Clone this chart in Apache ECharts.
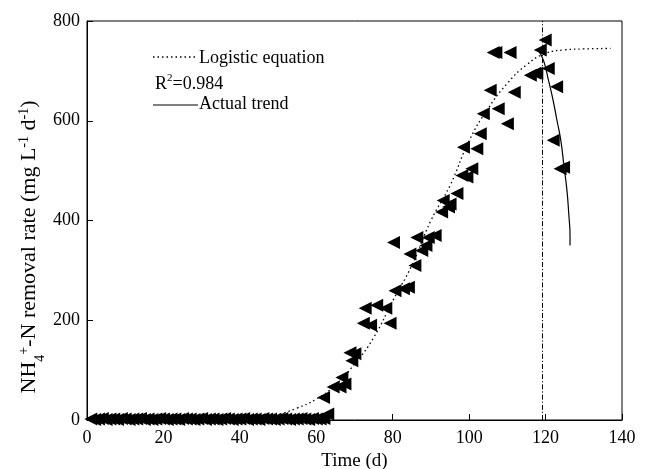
<!DOCTYPE html>
<html>
<head>
<meta charset="utf-8">
<script src="https://cdn.jsdelivr.net/npm/echarts@6/dist/echarts.min.js"></script>
<style>html,body{margin:0;padding:0;background:#fff}#c{width:646px;height:469px}</style>
</head>
<body>
<div id="c"></div>
<script>
// Measured data (day, NH4+-N removal rate)
var obsX = [1,2,3,4,5,6,7,8,9,10,11,12,13,14,15,16,17,18,19,20,21,22,23,24,25,26,27,28,29,30,31,32,33,34,35,36,37,38,39,40,41,42,43,44,45,46,47,48,49,50,51,52,53,54,55,56,57,58,59,60,61,62,
  61.9,63.0,64.4,66.2,67.5,66.7,68.8,70.1,69.3,
  72.3,74.2,79.3,72.8,75.8,78.2,
  80.2,80.6,82.8,84.1,85.8,84.5,87.6,86.3,89.3,91.1,88.7,
  92.8,94.6,93.2,95.0,96.8,98.1,99.4,100.7,102.0,98.5,102.9,103.7,107.6,
  110.0,111.8,105.5,106.3,107.0,110.7,116.0,117.2,117.7,118.6,119.9,120.7,122.9,122.0,123.8,124.7];
var obsY = [2,1,2,3,1,2,2,1,3,2,1,2,2,3,1,2,1,2,3,2,1,2,2,1,3,2,2,1,2,3,1,2,2,1,2,3,2,1,2,2,3,1,2,2,1,3,2,2,1,2,3,2,1,2,2,3,2,1,3,2,2,3,
  45,12,66,66,72,85,135,133,119,
  194,190,194,224,230,224,
  356,259,263,266,310,333,340,366,366,370,350,
  417,427,440,433,454,490,487,504,544,547,574,614,624,594,
  657,661,737,737,737,691,695,695,742,762,705,668,561,504,507,370];

// Logistic equation fit curve
var fitX = [0,10,20,30,40,45,50,55,60,65,70,75,80,85,90,95,100,105,110,115,120,125,130,137];
var fitY = [0,0,0,0,1,3,11,24,42,70,112,165,239,310,400,470,560,625,675,712,735,742,744,745];

// Actual trend curve
var trendX = [118.2,119.5,120.8,122.0,123.0,124.0,124.8,125.6,126.1,126.4,126.4];
var trendY = [740,720,680,640,600,560,510,460,410,370,350];

var xTicks = {min:0, max:140, interval:20};
var yTicks = {min:0, max:800, interval:200};
var transitionDay = 119;

function pairs(xs, ys){ var o=[]; for(var i=0;i<xs.length;i++) o.push([xs[i],ys[i]]); return o; }

var FONT = '"Liberation Serif","DejaVu Serif",serif';
var chart = echarts.init(document.getElementById('c'), null, {renderer:'canvas'});
chart.setOption({
  animation:false,
  backgroundColor:'#fff',
  grid:{left:87,right:24,top:21,bottom:49,outerBoundsMode:'none',containLabel:false,
        show:true,borderColor:'#000',borderWidth:1,backgroundColor:'transparent'},
  xAxis:{
    type:'value',min:xTicks.min,max:xTicks.max,interval:xTicks.interval,
    name:'Time (d)',nameLocation:'middle',nameGap:29,
    nameTextStyle:{fontFamily:FONT,fontSize:19,color:'#000'},
    axisLine:{show:true,lineStyle:{color:'#000',width:1}},
    axisTick:{show:true,inside:true,length:6,lineStyle:{color:'#000'}},
    axisLabel:{fontFamily:FONT,fontSize:18,color:'#000',margin:9},
    splitLine:{show:false}
  },
  yAxis:{
    type:'value',min:yTicks.min,max:yTicks.max,interval:yTicks.interval,
    axisLine:{show:true,lineStyle:{color:'#000',width:1}},
    axisTick:{show:true,inside:true,length:6,lineStyle:{color:'#000'}},
    axisLabel:{fontFamily:FONT,fontSize:18,color:'#000',margin:7},
    splitLine:{show:false}
  },
  series:[
    {
      type:'line',name:'Logistic equation',data:pairs(fitX,fitY),smooth:true,
      showSymbol:false,symbol:'none',
      lineStyle:{color:'#000',width:1.3,type:[1.5,3]},
      z:2,
      markLine:{
        silent:true,symbol:'none',label:{show:false},
        lineStyle:{color:'#000',width:1,type:[5,2,1.2,2]},
        data:[{xAxis:transitionDay}]
      }
    },
    {
      type:'scatter',name:'Observed',data:pairs(obsX,obsY),
      symbol:'path://M0,5L10,0L10,10Z',symbolSize:[13,13],
      itemStyle:{color:'#000',opacity:1},clip:true,z:3
    },
    {
      type:'line',name:'Actual trend',data:pairs(trendX,trendY),smooth:true,
      showSymbol:false,symbol:'none',
      lineStyle:{color:'#000',width:1.2,type:'solid'},z:4
    }
  ],
  graphic:[
    {type:'text',x:29,y:247,rotation:Math.PI/2,z:10,
     style:{text:'{n|NH}{sub|4}{sup|+}{n|-N removal rate (mg L}{sup|-1}{n| d}{sup|-1}{n|)}',
       align:'center',verticalAlign:'middle',font:'22px '+FONT,fill:'#000',
       rich:{
         n:{fontFamily:FONT,fontSize:22,fill:'#000',lineHeight:24,verticalAlign:'middle'},
         sub:{fontFamily:FONT,fontSize:14,fill:'#000',lineHeight:24,verticalAlign:'bottom',padding:[0,0,-6,0]},
         sup:{fontFamily:FONT,fontSize:14,fill:'#000',lineHeight:24,verticalAlign:'top'}
       }}},
    {type:'line',shape:{x1:153,y1:57,x2:197,y2:57},style:{stroke:'#000',lineWidth:1.3,lineDash:[1.5,3]}},
    {type:'text',x:199,y:58,style:{text:'Logistic equation',font:'18px '+FONT,fill:'#000',verticalAlign:'middle'}},
    {type:'text',x:155,y:83,style:{text:'{n|R}{sup|2}{n|=0.984}',verticalAlign:'middle',font:'18px '+FONT,fill:'#000',
      rich:{n:{fontFamily:FONT,fontSize:18,fill:'#000',lineHeight:20,verticalAlign:'bottom'},
            sup:{fontFamily:FONT,fontSize:11,fill:'#000',verticalAlign:'top',lineHeight:20}}}},
    {type:'line',shape:{x1:153,y1:105,x2:198,y2:105},style:{stroke:'#000',lineWidth:1.2}},
    {type:'text',x:199,y:104,style:{text:'Actual trend',font:'18px '+FONT,fill:'#000',verticalAlign:'middle'}}
  ]
});
</script>
</body>
</html>
